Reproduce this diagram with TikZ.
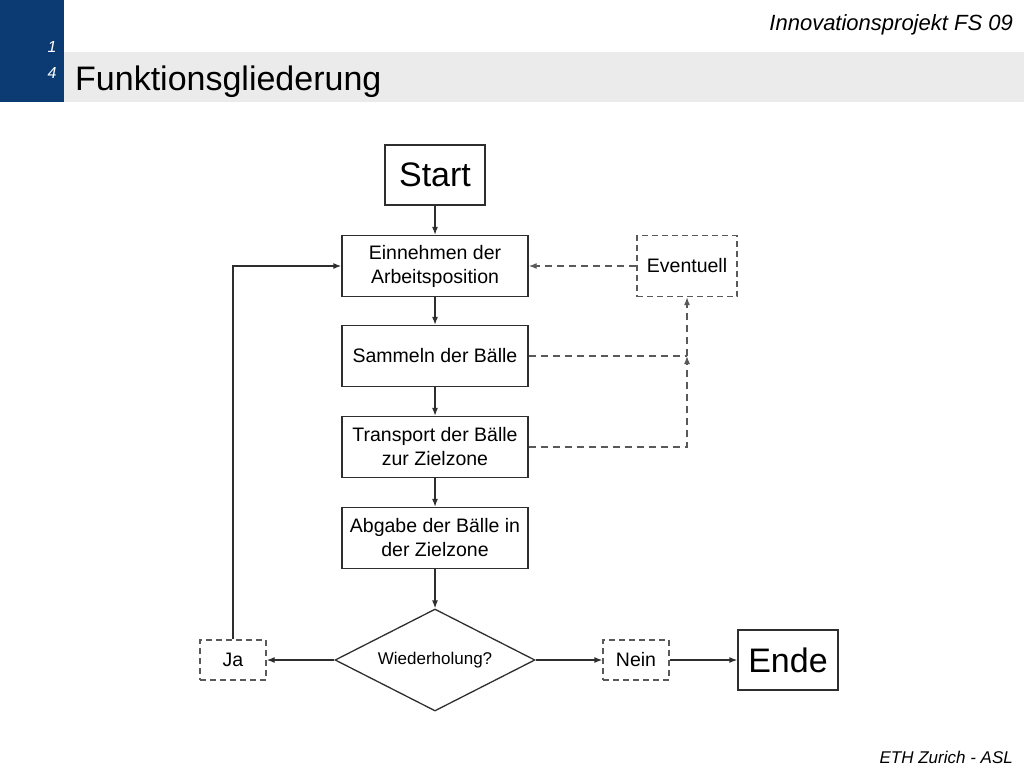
\documentclass[tikz,border=0pt]{standalone}
\usepackage{fontspec}
\setmainfont{Liberation Sans}
\usetikzlibrary{arrows.meta,shapes.geometric}
\definecolor{aslblue}{HTML}{0C3A72}
\definecolor{bandgray}{HTML}{EBEBEB}
\definecolor{linegray}{HTML}{2E2E2E}

\begin{document}
\begin{tikzpicture}[x=1pt,y=-1pt,>={Latex[length=8pt,width=6pt]},
  box/.style={draw=linegray,line width=1.3pt,minimum width=186pt,minimum height=61pt,inner sep=0pt,align=center,font=\fontsize{19.5}{24}\selectfont},
  bigbox/.style={box,minimum width=100pt,minimum height=60pt,font=\fontsize{34}{36}\selectfont},
  dbox/.style={box,draw=black!65,dash pattern=on 6pt off 4pt},
  arr/.style={->,line width=1.3pt,draw=linegray},
  darr/.style={->,line width=1.3pt,draw=black!65,dash pattern=on 7pt off 5pt},
]
\useasboundingbox (0,0) rectangle (1024,768);

% Kopfzeile
\fill[aslblue] (0,0) rectangle (64,102);
\fill[bandgray] (64,52) rectangle (1024,102);
\node[white,anchor=east,font=\fontsize{16}{18}\selectfont\itshape] at (60,47) {1};
\node[white,anchor=east,font=\fontsize{16}{18}\selectfont\itshape] at (60,73) {4};
\node[anchor=base west,inner sep=0pt,font=\fontsize{34}{40}\selectfont] (titel) at (75,90) {Funktionsgliederung};
\node[anchor=base east,inner sep=0pt,font=\fontsize{22}{26}\selectfont\itshape] (projekt) at (1013,31) {Innovationsprojekt FS 09};
\node[anchor=base east,inner sep=0pt,font=\fontsize{17}{20}\selectfont\itshape] (fuss) at (1013,763) {ETH Zurich - ASL};

% Ablauf
\node[bigbox] (start) at (435,175) {Start};
\node[box] (einnehmen) at (435,266) {Einnehmen der\\Arbeitsposition};
\node[dbox,minimum width=100pt] (eventuell) at (687,266) {Eventuell};
\node[box] (sammeln) at (435,356) {Sammeln der Bälle};
\node[box] (transport) at (435,447) {Transport der Bälle\\zur Zielzone};
\node[box] (abgabe) at (435,538) {Abgabe der Bälle in\\der Zielzone};
\node[diamond,draw=linegray,line width=1.3pt,inner sep=0pt,aspect=1.96,minimum width=200pt,minimum height=102pt,font=\fontsize{17}{20}\selectfont] (wdh) at (435,660) {Wiederholung?};
\node[dbox,minimum width=66pt,minimum height=40pt] (ja) at (233,660) {Ja};
\node[dbox,minimum width=66pt,minimum height=40pt] (nein) at (636,660) {Nein};
\node[bigbox] (ende) at (788,660) {Ende};
\coordinate (knick) at (eventuell.south |- sammeln.east);

\draw[arr] (start) -- (einnehmen);
\draw[arr] (einnehmen) -- (sammeln);
\draw[arr] (sammeln) -- (transport);
\draw[arr] (transport) -- (abgabe);
\draw[arr] (abgabe) -- (wdh);
\draw[arr] (wdh.west) -- (ja.east);
\draw[arr] (wdh.east) -- (nein.west);
\draw[arr] (nein) -- (ende);
\draw[arr] (ja.north) |- (einnehmen.west);
\draw[darr] (eventuell) -- (einnehmen);
\draw[darr,-] (sammeln.east) -- (knick);
\draw[darr] (transport.east) -| (knick);
\draw[darr] (knick) -- (eventuell.south);
\end{tikzpicture}
\end{document}
